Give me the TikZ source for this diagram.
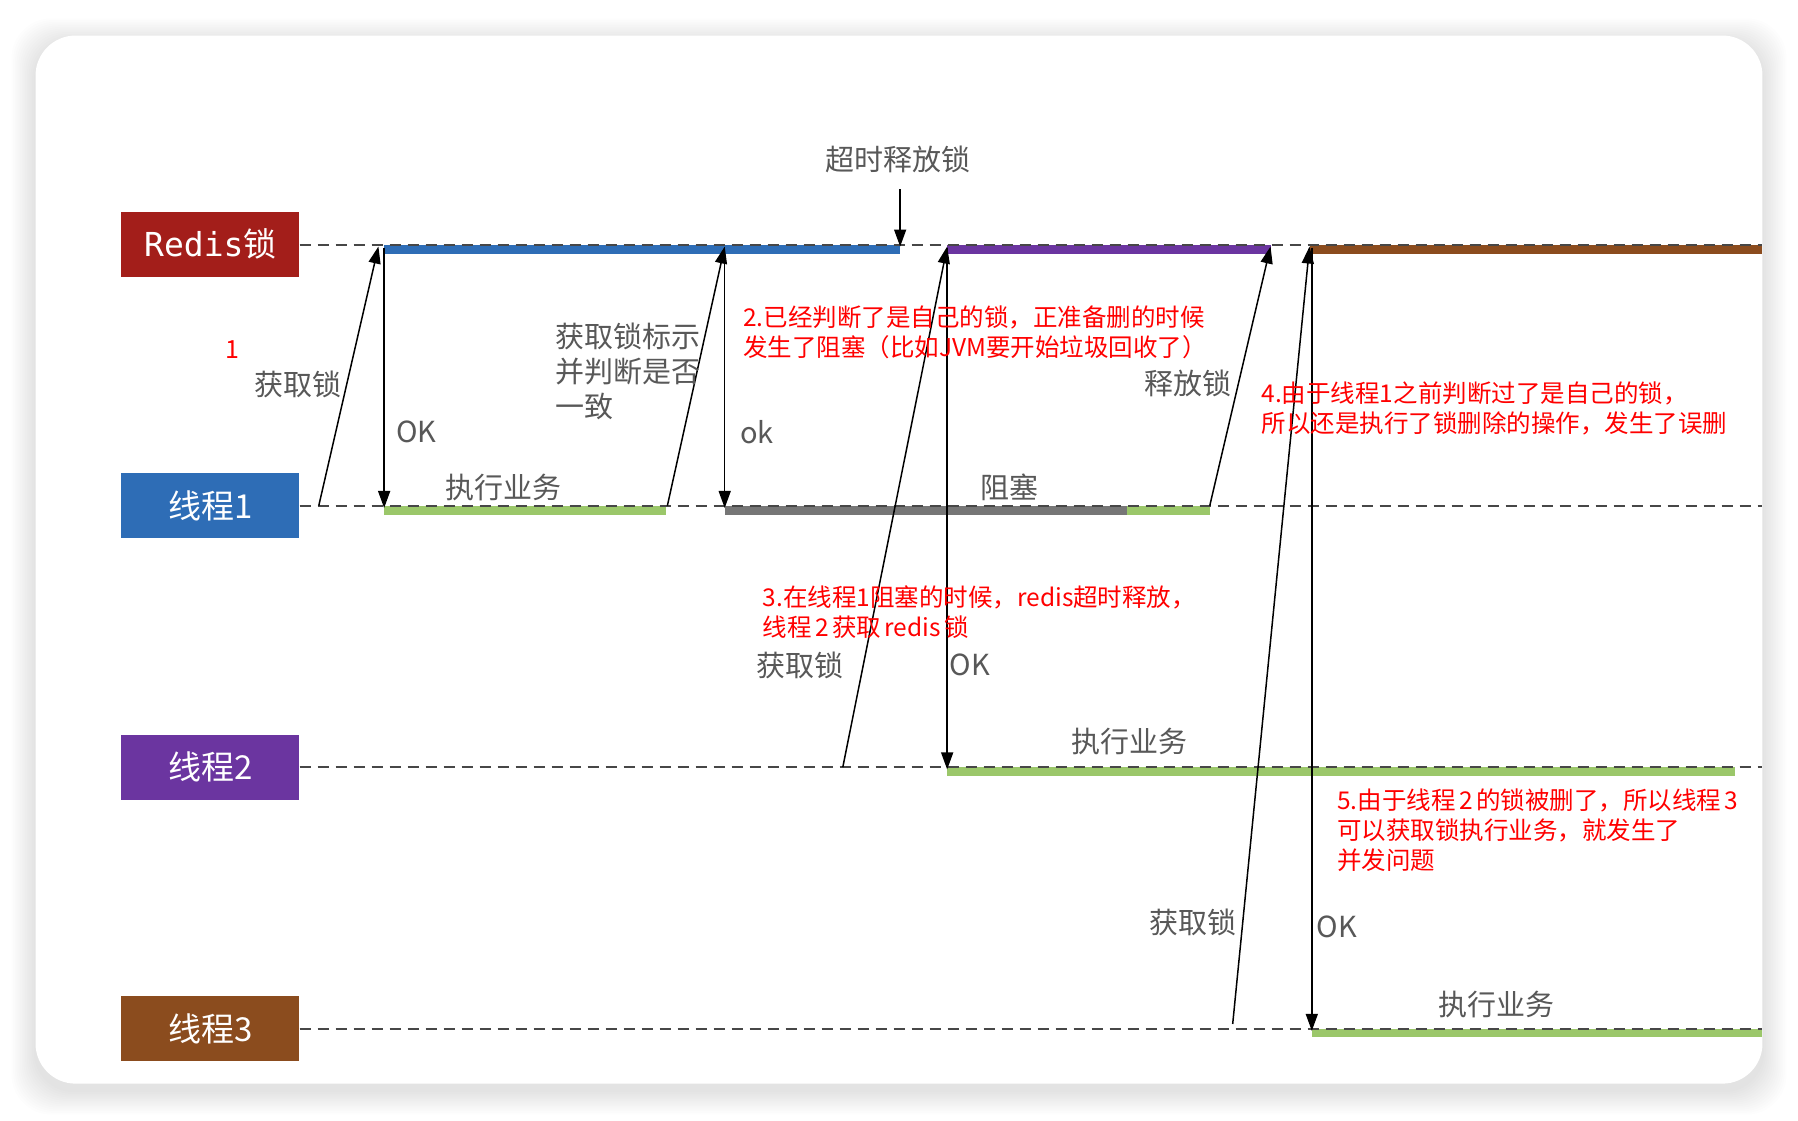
\documentclass[tikz,border=0pt]{standalone}
\usepackage{fontspec}
\setmainfont{Noto Sans CJK SC}
\newfontfamily\monofam{DejaVu Sans Mono}
\usetikzlibrary{arrows.meta}
\definecolor{redisred}{RGB}{163,30,26}
\definecolor{tblue}{RGB}{46,109,182}
\definecolor{tpurple}{RGB}{107,53,160}
\definecolor{tbrown}{RGB}{139,76,30}
\definecolor{bgreen}{RGB}{155,199,106}
\definecolor{bgray}{RGB}{118,118,118}
\definecolor{lblgray}{RGB}{88,88,88}
\definecolor{notered}{RGB}{255,0,0}
\newcommand{\gp}{\hspace{0.14em}}
\begin{document}
\begin{tikzpicture}[x=1.1467pt,y=-1.1467pt,
  lanebox/.style={rectangle, minimum width=178pt, minimum height=65pt, inner sep=0pt, text=white, font=\fontsize{33}{33}\selectfont},
  lifeline/.style={draw=black!72, line width=2.1pt, dash pattern=on 11pt off 7pt},
  bar/.style={line width=8.5pt},
  msg/.style={draw=black, line width=1.5pt, -{Triangle[length=17pt,width=12pt]}},
  lbl/.style={text=lblgray, font=\fontsize{29}{35}\selectfont, inner sep=0pt},
  note/.style={text=notered, font=\fontsize{24.5}{30}\selectfont, align=left, anchor=west, inner sep=0pt}]
\useasboundingbox (0,0) rectangle (1568,977);
\fill[white] (0,0) rectangle (1568,977);
% card shadow
\foreach \i in {1,...,14}{
  \fill[black,opacity=0.008,rounded corners=40pt] ({31-\i*1.5},{31-\i*1.5+6}) rectangle ({1537+\i*1.5},{945+\i*1.5+6});
}
\fill[white,rounded corners=40pt] (31,31) rectangle (1537,945);

% lane boxes
\node[lanebox, fill=redisred] (redis) at (183.5,213) {{\monofam Redis}锁};
\node[lanebox, fill=tblue] (t1) at (183.5,441) {线程1};
\node[lanebox, fill=tpurple] (t2) at (183.5,669) {线程2};
\node[lanebox, fill=tbrown] (t3) at (183.5,897) {线程3};

% lifeline ends
\coordinate (rEnd) at (1537,214);
\coordinate (t1End) at (1537,441);
\coordinate (t2End) at (1537,669);
\coordinate (t3End) at (1537,897);

% activity bars
\draw[bar, tblue] (335,217.5) -- (785,217.5);
\draw[bar, tpurple] (826,217.5) -- (1108,217.5);
\draw[bar, tbrown] (1142,217.5) -- (1537,217.5);
\draw[bar, bgreen] (335,445) -- (581,445);
\draw[bar, bgray] (632,445) -- (983,445);
\draw[bar, bgreen] (983,445) -- (1055,445);
\draw[bar, bgreen] (826,673) -- (1513,673);
\draw[bar, bgreen] (1144,901) -- (1537,901);

% lifelines
\draw[lifeline] (redis.east |- rEnd) -- (rEnd);
\draw[lifeline] (t1.east) -- (t1End);
\draw[lifeline] (t2.east) -- (t2End);
\draw[lifeline] (t3.east) -- (t3End);

% message coordinates
\coordinate (a1s) at (278,441);  \coordinate (a1e) at (330,215);
\coordinate (o1s) at (335,216);  \coordinate (o1e) at (335,443);
\coordinate (a2s) at (582,441);  \coordinate (a2e) at (632,215);
\coordinate (o2s) at (632,216);  \coordinate (o2e) at (632,443);
\coordinate (tos) at (785,165);  \coordinate (toe) at (785,215);
\coordinate (a3s) at (735,669);  \coordinate (a3e) at (826,215);
\coordinate (o3s) at (826,216);  \coordinate (o3e) at (826,671);
\coordinate (rls) at (1055,441); \coordinate (rle) at (1108,215);
\coordinate (a4s) at (1075,893); \coordinate (a4e) at (1142,215);
\coordinate (o4s) at (1144,216); \coordinate (o4e) at (1144,899);

\draw[msg] (a1s) -- (a1e);
\draw[msg] (o1s) -- (o1e);
\draw[msg] (a2s) -- (a2e);
\draw[msg] (o2s) -- (o2e);
\draw[msg] (tos) -- (toe);
\draw[msg] (a3s) -- (a3e);
\draw[msg] (o3s) -- (o3e);
\draw[msg] (rls) -- (rle);
\draw[msg] (a4s) -- (a4e);
\draw[msg] (o4s) -- (o4e);

% grey labels
\node[lbl] (ltimeout) at (783,139) {超时释放锁};
\node[lbl] (lget1) at (260,335) {获取锁};
\node[lbl] (lok1) at (363,377) {OK};
\node[lbl] (lexec1) at (439,425) {执行业务};
\node[lbl, align=left, anchor=west] (lcheck) at (484,323.5) {获取锁标示\\并判断是否\\一致};
\node[lbl] (lok2) at (660,377) {ok};
\node[lbl] (lblock) at (880,425) {阻塞};
\node[lbl] (lrel) at (1036,334) {释放锁};
\node[lbl] (lget2) at (698,580) {获取锁};
\node[lbl] (lok3) at (846,580) {OK};
\node[lbl] (lexec2) at (985,647) {执行业务};
\node[lbl] (lget3) at (1040,804) {获取锁};
\node[lbl] (lok4) at (1166,808) {OK};
\node[lbl] (lexec3) at (1305,876) {执行业务};

% red notes
\node[text=notered, font=\fontsize{25}{30}\selectfont, inner sep=0pt] (n1) at (203,305) {1};
\node[note] (n2) at (648,290) {2.已经判断了是自己的锁，正准备删的时候\\发生了阻塞（比如JVM要开始垃圾回收了）};
\node[note] (n4) at (1100,356) {4.由于线程1之前判断过了是自己的锁，\\所以还是执行了锁删除的操作，发生了误删};
\node[note] (n3) at (665,534) {3.在线程1阻塞的时候，redis超时释放，\\线程\gp{}2\gp{}获取\gp{}redis\gp{}锁};
\node[note] (n5) at (1166,724) {5.由于线程\gp{}2\gp{}的锁被删了，所以线程\gp{}3\\可以获取锁执行业务，就发生了\\并发问题};
\end{tikzpicture}
\end{document}
